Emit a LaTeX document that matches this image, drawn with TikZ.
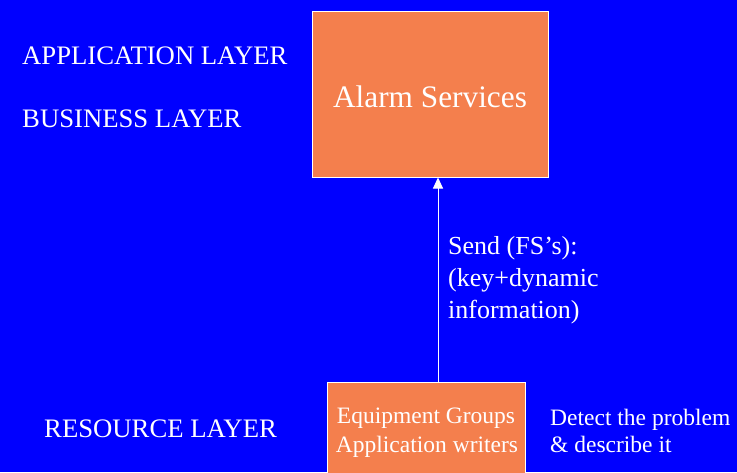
\documentclass[tikz,border=0pt]{standalone}
\usepackage{fontspec}
\setmainfont{Liberation Serif}
\usetikzlibrary{arrows.meta}
\definecolor{bg}{RGB}{0,0,255}
\definecolor{boxor}{RGB}{244,127,77}
\tikzset{
  layer/.style={text=white, font=\fontsize{26.7}{30}\selectfont, anchor=base west, inner sep=0pt},
  sendt/.style={text=white, font=\fontsize{26}{30}\selectfont, anchor=base west, inner sep=0pt},
  lbl/.style={text=white, font=\fontsize{23.5}{28}\selectfont, inner sep=0pt},
  orbox/.style={draw=white, line width=1pt, fill=boxor, inner sep=0pt},
  conn/.style={draw=white, line width=1pt, -{Triangle[width=10pt,length=11pt]}}
}
\begin{document}
\begin{tikzpicture}[x=1pt,y=-1pt]
\fill[bg] (0,0) rectangle (737,472);
\useasboundingbox (0,0) rectangle (737,472);
\clip (0,0) rectangle (737,472);
% boxes
\node[orbox, minimum width=236pt, minimum height=166pt] (alarm) at (430,94) {};
\node[text=white, font=\fontsize{31.3}{36}\selectfont, inner sep=0pt, anchor=base] (alarmtxt) at (430,107) {Alarm Services};
\node[orbox, minimum width=198pt, minimum height=110pt] (res) at (426,437) {};
\node[lbl, anchor=base] (eq) at (426,423) {Equipment Groups};
\node[lbl, anchor=base] (aw) at (427,452) {Application writers};
% layer labels
\node[layer] (app) at (22,64) {APPLICATION LAYER};
\node[layer] (bus) at (22,127) {BUSINESS LAYER};
\node[layer] (resl) at (44,437) {RESOURCE LAYER};
% side labels
\node[lbl, anchor=base west] (det1) at (550,425) {Detect the problem};
\node[lbl, anchor=base west] (det2) at (550,452) {\& describe it};
\node[sendt] (s1) at (448,254) {Send (FS’s):};
\node[sendt] (s2) at (448,286) {(key+dynamic};
\node[sendt] (s3) at (448,318) {information)};
% connector
\coordinate (from) at (res.north -| 438,0);
\coordinate (to) at (alarm.south -| 438,0);
\draw[conn] (from) -- (to);
\end{tikzpicture}
\end{document}
